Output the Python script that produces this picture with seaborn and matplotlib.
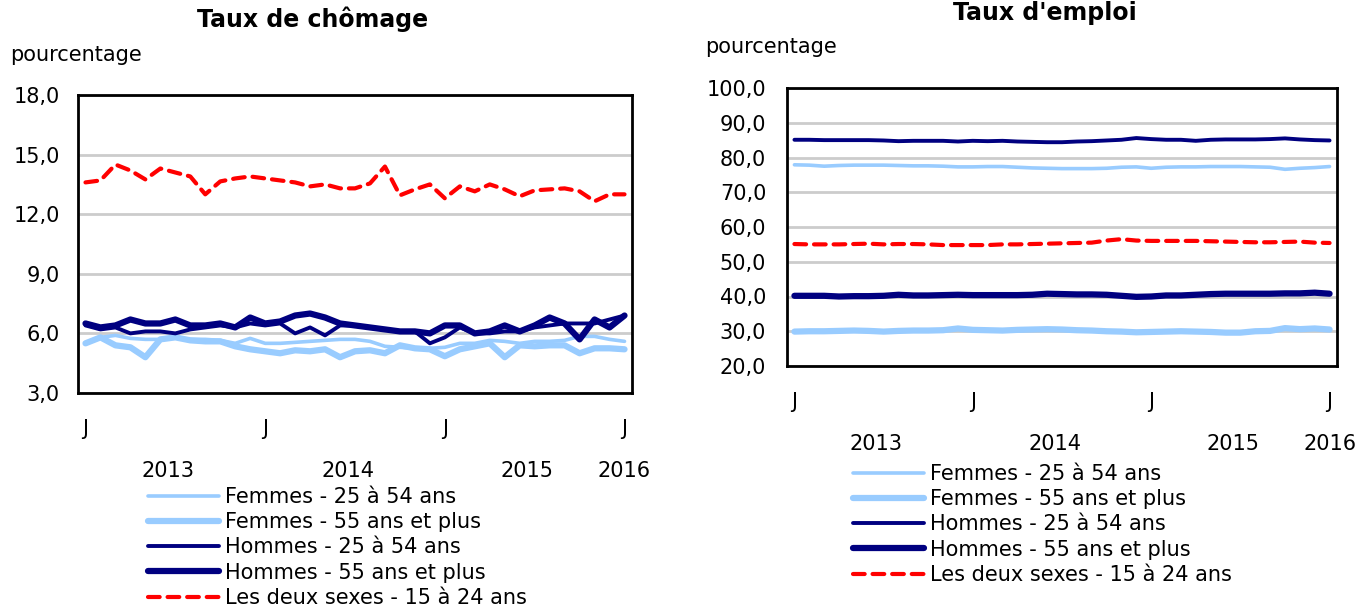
import numpy as np
import pandas as pd
import matplotlib
matplotlib.use("Agg")
import matplotlib.pyplot as plt
import seaborn as sns
from matplotlib.ticker import FuncFormatter, FixedLocator

# mois : janvier 2013 à janvier 2016
mois = pd.date_range("2013-01-01", "2016-01-01", freq="MS")
annees = ["2013", "2014", "2015", "2016"]
series = ["Femmes - 25 à 54 ans", "Femmes - 55 ans et plus",
          "Hommes - 25 à 54 ans", "Hommes - 55 ans et plus",
          "Les deux sexes - 15 à 24 ans"]

# Taux de chômage
chom_f2554 = [5.5, 5.8, 5.9, 5.75, 5.7, 5.7, 5.8, 5.7, 5.7, 5.65, 5.5, 5.75, 5.5,
              5.5, 5.55, 5.6, 5.65, 5.7, 5.7, 5.6, 5.35, 5.3, 5.25, 5.25, 5.3,
              5.5, 5.5, 5.65, 5.6, 5.5, 5.6, 5.6, 5.65, 5.85, 5.85, 5.7, 5.6]
chom_f55 = [5.5, 5.8, 5.4, 5.3, 4.8, 5.7, 5.8, 5.65, 5.6, 5.6, 5.35, 5.2, 5.1,
            5.0, 5.15, 5.1, 5.2, 4.8, 5.1, 5.15, 5.0, 5.4, 5.25, 5.2, 4.85,
            5.2, 5.35, 5.5, 4.8, 5.4, 5.35, 5.4, 5.4, 5.0, 5.25, 5.25, 5.2]
chom_h2554 = [6.4, 6.2, 6.3, 6.0, 6.1, 6.1, 6.0, 6.2, 6.3, 6.4, 6.3, 6.5, 6.4,
              6.5, 6.0, 6.3, 5.9, 6.4, 6.4, 6.3, 6.2, 6.1, 6.1, 5.5, 5.8,
              6.3, 6.0, 6.0, 6.1, 6.1, 6.3, 6.4, 6.5, 6.5, 6.5, 6.7, 6.9]
chom_h55 = [6.5, 6.3, 6.4, 6.7, 6.5, 6.5, 6.7, 6.4, 6.4, 6.5, 6.3, 6.8, 6.5,
            6.6, 6.9, 7.0, 6.8, 6.5, 6.4, 6.3, 6.2, 6.1, 6.1, 6.0, 6.4,
            6.4, 6.0, 6.1, 6.4, 6.1, 6.4, 6.8, 6.5, 5.7, 6.7, 6.3, 6.9]
chom_1524 = [13.6, 13.7, 14.5, 14.2, 13.75, 14.3, 14.1, 13.9, 13.0, 13.65, 13.8,
             13.9, 13.8, 13.7, 13.6, 13.4, 13.5, 13.3, 13.3, 13.55, 14.4, 12.95,
             13.25, 13.5, 12.8, 13.4, 13.15, 13.5, 13.25, 12.9, 13.2, 13.25,
             13.3, 13.15, 12.65, 13.0, 13.0]

# Taux d'emploi
empl_f2554 = [77.9, 77.8, 77.5, 77.7, 77.8, 77.8, 77.8, 77.7, 77.6, 77.6, 77.5,
              77.3, 77.3, 77.4, 77.4, 77.2, 77.0, 76.9, 76.8, 76.8, 76.8, 76.9,
              77.2, 77.3, 76.9, 77.2, 77.3, 77.3, 77.4, 77.4, 77.4, 77.3, 77.2,
              76.6, 76.9, 77.1, 77.4]
empl_f55 = [29.9, 30.0, 30.0, 30.1, 30.2, 30.1, 29.9, 30.1, 30.2, 30.2, 30.3,
            30.8, 30.4, 30.3, 30.2, 30.4, 30.5, 30.6, 30.5, 30.3, 30.2, 30.0,
            29.9, 29.7, 29.8, 29.9, 30.0, 29.9, 29.8, 29.6, 29.6, 30.0, 30.1,
            30.9, 30.6, 30.8, 30.5]
empl_h2554 = [85.1, 85.1, 85.0, 85.0, 85.0, 85.0, 84.9, 84.7, 84.8, 84.8, 84.8,
              84.6, 84.8, 84.7, 84.8, 84.6, 84.5, 84.4, 84.4, 84.6, 84.7, 84.9,
              85.1, 85.6, 85.3, 85.1, 85.1, 84.8, 85.1, 85.2, 85.2, 85.2, 85.3,
              85.5, 85.2, 85.0, 84.9]
empl_h55 = [40.2, 40.2, 40.2, 40.0, 40.1, 40.1, 40.2, 40.5, 40.3, 40.3, 40.4,
            40.5, 40.4, 40.4, 40.4, 40.4, 40.5, 40.8, 40.7, 40.6, 40.6, 40.5,
            40.2, 39.9, 40.0, 40.3, 40.3, 40.5, 40.7, 40.8, 40.8, 40.8, 40.8,
            40.9, 40.9, 41.1, 40.8]
empl_1524 = [55.1, 55.0, 55.0, 55.0, 55.1, 55.2, 55.0, 55.1, 55.1, 55.0, 54.8,
             54.8, 54.8, 54.8, 55.0, 55.0, 55.1, 55.2, 55.3, 55.4, 55.5, 56.1,
             56.5, 56.1, 56.0, 56.0, 56.0, 56.0, 55.9, 55.8, 55.7, 55.6, 55.6,
             55.7, 55.8, 55.5, 55.4]

styles = [
    dict(color="#99CCFF", linewidth=2.6, linestyle="-"),
    dict(color="#99CCFF", linewidth=4.5, linestyle="-"),
    dict(color="#000080", linewidth=2.8, linestyle="-"),
    dict(color="#000080", linewidth=4.5, linestyle="-"),
    dict(color="#FF0000", linewidth=3.0, linestyle=(0, (2.8, 1.9))),
]

sns.set_style("white")
plt.rcParams["font.family"] = ["DejaVu Sans"]
plt.rcParams["font.size"] = 15
plt.rcParams["text.color"] = "black"
plt.rcParams["xtick.color"] = "black"
plt.rcParams["ytick.color"] = "black"

fig = plt.figure(figsize=(13.66, 6.1), dpi=100)
ax1 = fig.add_axes([78 / 1366, 1 - 393 / 610, 554 / 1366, 298 / 610])
ax2 = fig.add_axes([787 / 1366, 1 - 366 / 610, 550 / 1366, 278 / 610])

x = np.arange(len(mois))
virgule = FuncFormatter(lambda v, p: f"{v:.1f}".replace(".", ","))


def panneau(ax, donnees, ylim, pas, ypad, jpad, apad):
    for nom, vals, st in zip(series, donnees, styles):
        sns.lineplot(x=x, y=vals, ax=ax, label=nom, solid_capstyle="round",
                     solid_joinstyle="round", dash_capstyle="round", **st)
    ax.set_xlim(-0.5, len(x) - 0.5)
    ax.set_ylim(*ylim)
    ax.yaxis.set_major_locator(FixedLocator(np.arange(ylim[0], ylim[1] + 0.1, pas)))
    ax.yaxis.set_major_formatter(virgule)
    ax.yaxis.grid(True, color="#cccccc", linewidth=2)
    ax.set_axisbelow(True)
    jan = [i for i, m in enumerate(mois) if m.month == 1]
    ax.set_xticks(jan)
    ax.set_xticklabels(["J"] * len(jan))
    ax.set_xticks(np.arange(0.5, len(x) - 1, 1), minor=True)
    ax.tick_params(axis="x", which="major", length=0, pad=jpad, labelsize=15)
    ax.tick_params(axis="x", which="minor", direction="in", length=5, width=1.5,
                   color="black")
    ax.tick_params(axis="y", length=0, pad=ypad, labelsize=15)
    for sp in ax.spines.values():
        sp.set_color("black")
        sp.set_linewidth(2)
    # libellés des années (centrés sur chaque année)
    centres = [5.5, 17.5, 29.5, 36]
    for c, a in zip(centres, annees):
        ax.text(c, apad, a, transform=ax.get_xaxis_transform(), ha="center",
                va="center", fontsize=15)
    ax.set_xlabel("")
    ax.set_ylabel("")
    ax.get_legend().remove()


panneau(ax1, [chom_f2554, chom_f55, chom_h2554, chom_h55, chom_1524],
        (3, 18), 3, 13, 19, -78 / 298)
panneau(ax2, [empl_f2554, empl_f55, empl_h2554, empl_h55, empl_1524],
        (20, 100), 10, 15, 19, -78 / 278)

fig.text(313 / 1366, 1 - 19 / 610, "Taux de chômage", ha="center", va="center",
         fontsize=17, fontweight="bold")
fig.text(1045 / 1366, 1 - 13 / 610, "Taux d'emploi", ha="center", va="center",
         fontsize=17, fontweight="bold")
fig.text(10 / 1366, 1 - 55 / 610, "pourcentage", ha="left", va="center", fontsize=15)
fig.text(705 / 1366, 1 - 47 / 610, "pourcentage", ha="left", va="center", fontsize=15)

h, l = ax1.get_legend_handles_labels()
leg_kw = dict(frameon=False, fontsize=15, handlelength=3.4, handletextpad=0.3,
              labelspacing=0.25, borderpad=0, borderaxespad=0, loc="upper left")
fig.legend(h, l, bbox_to_anchor=(148 / 1366, 1 - 487 / 610), **leg_kw)
fig.legend(h, l, bbox_to_anchor=(853 / 1366, 1 - 464 / 610), **leg_kw)

fig.savefig("out.png", dpi=100)
